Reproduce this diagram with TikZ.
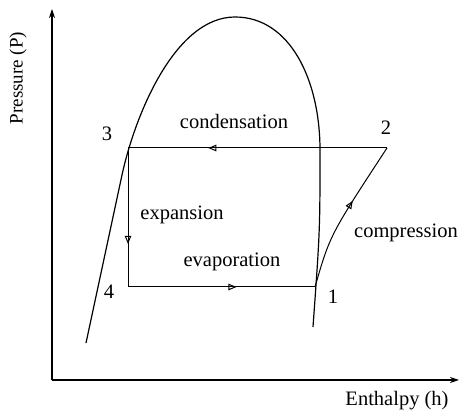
\documentclass[tikz,border=0pt]{standalone}
\usepackage{fontspec}
\setmainfont{Liberation Serif}
\usetikzlibrary{arrows.meta, positioning, calc, decorations.markings}
\tikzset{
    cycleline/.style={black, line width=1pt},
    midarrow/.style={postaction={decorate}, decoration={markings,
        mark=at position #1 with {\arrow{Triangle[open, length=8pt, width=6.5pt]}}}},
    lbl/.style={font=\fontsize{20.5}{24}\selectfont, inner sep=1pt},
}

\begin{document}
\begin{tikzpicture}[x=1pt, y=-1pt]
    \useasboundingbox (0,0) rectangle (459,419);
    % axes
    \coordinate (O) at (52,380);
    \coordinate (ytop) at (52,9);
    \coordinate (xend) at (459,380);
    \draw[line width=1.2pt, -{Stealth[length=9pt, width=6pt]}] (O) -- (ytop);
    \draw[line width=1.2pt, -{Stealth[length=9pt, width=6pt]}] (O) -- (xend);
    \node[lbl, font=\fontsize{19}{22}\selectfont, rotate=90] (ylab) at (18,78) {Pressure (P)};
    \node[lbl] (xlab) at (397,401) {Enthalpy (h)};

    % saturation dome
    \coordinate (dl) at (86,343);
    \coordinate (dtop) at (235,17);
    \coordinate (dr) at (313,327);
    \draw[line width=1.2pt] (dl) -- (122,175)
        .. controls (135,115) and (175,17) .. (dtop)
        .. controls (290,17) and (320,80) .. (320,150)
        .. controls (320,230) .. (dr);

    % cycle points
    \coordinate (p1) at (315,287);
    \coordinate (p2) at (387,148);
    \coordinate (p3) at (128,148);
    \coordinate (p4) at (128,287);
    \draw[cycleline, midarrow=0.69] (p2) -- (p3);
    \draw[cycleline, midarrow=0.69] (p3) -- (p4);
    \draw[cycleline, midarrow=0.58] (p4) -- (p1);
    \draw[cycleline, midarrow=0.6] (p1) .. controls (330,235) .. (p2);

    % labels
    \node[lbl] (n1) at (333,297) {1};
    \node[lbl] (n2) at (386,128) {2};
    \node[lbl] (n3) at (107,134) {3};
    \node[lbl] (n4) at (109,292) {4};
    \node[lbl] (cond) at (234,121) {condensation};
    \node[lbl] (expa) at (182,215) {expansion};
    \node[lbl] (evap) at (232,262) {evaporation};
    \node[lbl] (comp) at (406,233) {compression};
\end{tikzpicture}
\end{document}
